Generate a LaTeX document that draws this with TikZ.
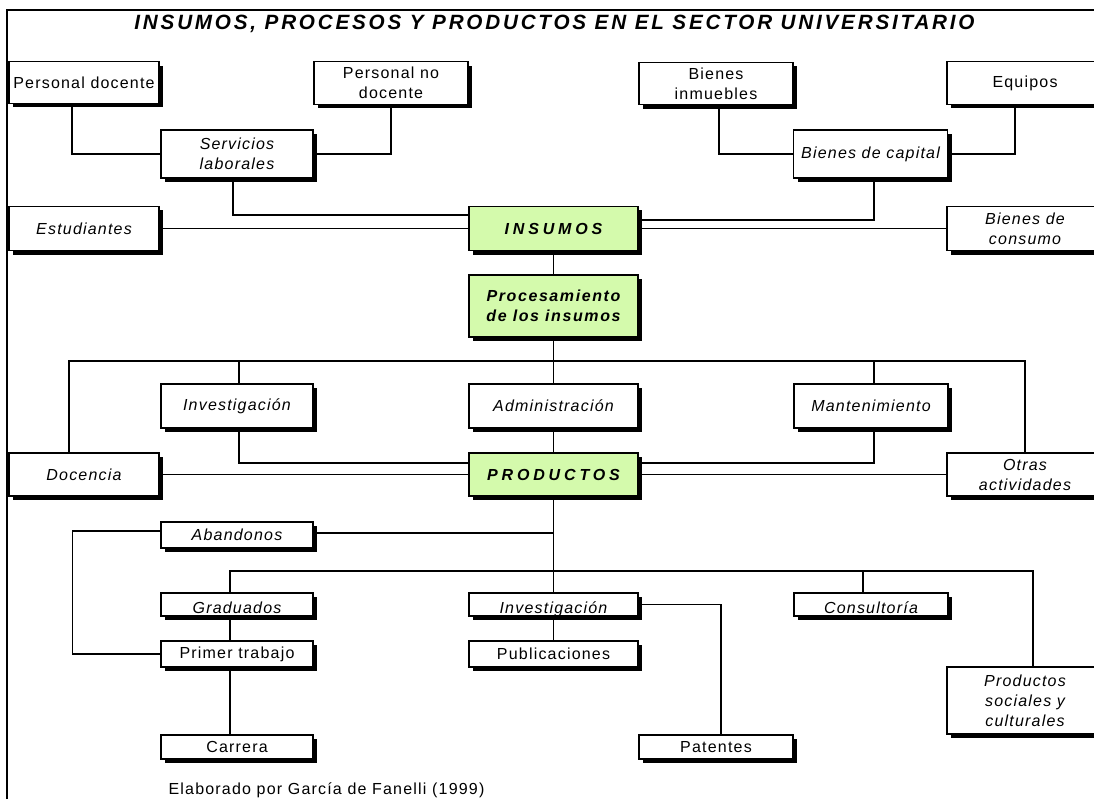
\documentclass[tikz,border=0pt]{standalone}
\usepackage{fontspec}
\setmainfont{Liberation Sans}[LetterSpace=7.5]
\usetikzlibrary{shadows,positioning}
\definecolor{leafgreen}{RGB}{212,250,172}
\tikzstyle{box} = [draw, fill=white, rectangle, line width=0.8pt, inner sep=1pt,
    align=center, font=\fontsize{12}{15}\selectfont\itshape,
    drop shadow={shadow xshift=3pt, shadow yshift=-3pt, fill=black, opacity=1}]
\tikzstyle{upright} = [font=\fontsize{12}{15}\selectfont]
\tikzstyle{low} = [text height=14pt, text depth=0pt]
\tikzstyle{core} = [box, fill=leafgreen, minimum width=126.75pt,
    font=\fontsize{12}{15}\selectfont\bfseries\itshape\addfontfeature{LetterSpace=10}]
\tikzstyle{spread} = [font=\fontsize{12}{15}\selectfont\bfseries\itshape\addfontfeature{LetterSpace=24}]
\tikzstyle{lcol} = [minimum width=112.5pt]
\tikzstyle{mcol} = [minimum width=114pt]
\tikzstyle{gcol} = [minimum width=126.75pt]
\tikzstyle{rcol} = [minimum width=115.5pt]
\tikzstyle{ecol} = [minimum width=117pt]

\begin{document}
\begin{tikzpicture}[x=0.75pt, y=-0.75pt, line width=0.8pt]
	  \useasboundingbox (0,0) rectangle (1094,799);
	  \clip (0,0) rectangle (1094,799);
	  \draw [line width=2.2pt] (7,799) -- (7,9.5);
	  \draw [line width=1pt] (6,10) -- (1094,10);
	  \node [font=\fontsize{15.5}{18}\selectfont\bfseries\itshape\addfontfeature{LetterSpace=13.5}] (title) at (554.5,24)
	    {INSUMOS, PROCESOS Y PRODUCTOS EN EL SECTOR UNIVERSITARIO};
	  \node [box, upright, lcol, minimum height=31pt] (pd) at (84,82.5) {Personal docente};
	  \node [box, upright, rcol, minimum height=32pt] (pnd) at (391,83) {Personal no\\docente};
	  \node [box, upright, rcol, minimum height=32pt] (bi) at (716,83.5) {Bienes\\inmuebles};
	  \node [box, upright, ecol, minimum height=32pt] (eq) at (1025,83) {Equipos};
	  \node [box, mcol, minimum height=36pt] (sl) at (237,154) {Servicios\\laborales};
	  \node [box, rcol, minimum height=36pt] (bc) at (870.5,154) {Bienes de capital};
	  \node [box, lcol, minimum height=33.5pt] (est) at (84,228.5) {Estudiantes};
	  \node [core, spread, minimum height=33.5pt] (ins) at (553.5,228.5) {INSUMOS};
	  \node [box, ecol, minimum height=33.5pt] (bco) at (1025,228.5) {Bienes de\\consumo};
	  \node [core, minimum height=46.5pt] (proc) at (553.5,306) {Procesamiento\\de los insumos};
	  \node [box, mcol, minimum height=33pt] (inv) at (237,406) {Investigación};
	  \node [box, gcol, minimum height=33pt] (adm) at (553.5,406) {Administración};
	  \node [box, rcol, minimum height=33pt] (man) at (871,406) {Mantenimiento};
	  \node [box, lcol, minimum height=32.25pt] (doc) at (84,474.5) {Docencia};
	  \node [core, spread, minimum height=32.25pt] (prod) at (553.5,474.5) {PRODUCTOS};
	  \node [box, ecol, minimum height=32.25pt] (otr) at (1025,474.5) {Otras\\actividades};
	  \node [box, mcol, minimum height=19.5pt] (aba) at (237,535) {Abandonos};
	  \node [box, low, mcol, minimum height=17.25pt] (gra) at (237,604.5) {Graduados};
	  \node [box, low, gcol, minimum height=17.25pt] (inv2) at (553.5,604.5) {Investigación};
	  \node [box, low, rcol, minimum height=17.25pt] (con) at (871,604.5) {Consultoría};
	  \node [box, upright, mcol, minimum height=19.5pt] (pt) at (237,654) {Primer trabajo};
	  \node [box, upright, gcol, minimum height=19.5pt] (pub) at (553.5,654) {Publicaciones};
	  \node [box, upright, mcol, minimum height=18pt] (car) at (237,747) {Carrera};
	  \node [box, upright, rcol, minimum height=18pt] (pat) at (716,747) {Patentes};
	  \node [box, ecol, minimum height=50.25pt] (psc) at (1025,700.5) {Productos\\sociales y\\culturales};
	  \node [anchor=base west, inner sep=0pt, font=\fontsize{12}{15}\selectfont] (note) at (168,794)
	    {Elaborado por García de Fanelli (1999)};
	  \coordinate (bus) at (553.5,361);
	  \coordinate (bus2) at (553.5,571);
	  \draw ([shift={(-12,0)}]pd.south) |- (sl.west);
	  \draw (pnd.south) |- (sl.east);
	  \draw ([shift={(-4,0)}]sl.south) |- ([shift={(0,-13.5)}]ins.west);
	  \draw (est) -- (ins);
	  \draw ([shift={(3,0)}]bi.south) |- (bc.west);
	  \draw ([shift={(-10,0)}]eq.south) |- (bc.east);
	  \draw ([shift={(3.5,0)}]bc.south) |- ([shift={(0,-8.5)}]ins.east);
	  \draw (ins) -- (bco);
	  \draw (ins) -- (proc);
	  \draw (proc) -- (adm);
	  \draw ([shift={(-15,0)}]doc.north) |- (bus) -| (otr.north);
	  \draw ([shift={(2,0)}]inv.north) -- ([shift={(2,0)}]inv.north |- bus);
	  \draw ([shift={(3,0)}]man.north) -- ([shift={(3,0)}]man.north |- bus);
	  \draw (adm) -- (prod);
	  \draw ([shift={(2,0)}]inv.south) |- ([shift={(0,-11.5)}]prod.west);
	  \draw ([shift={(3,0)}]man.south) |- ([shift={(0,-11.5)}]prod.east);
	  \draw (doc) -- (prod);
	  \draw (prod) -- (otr);
	  \draw (prod) -- (inv2);
	  \draw (inv2) -- (pub);
	  \draw ([shift={(0,-2)}]aba.east) -- ([shift={(0,-2)}]aba.east -| prod.south);
	  \draw ([shift={(0,-4)}]aba.west) -- ++(-88,0) |- (pt.west);
	  \draw ([shift={(-7,0)}]gra.north) |- (bus2) -| ([shift={(8,0)}]psc.north);
	  \draw ([shift={(-8,0)}]con.north) -- ([shift={(-8,0)}]con.north |- bus2);
	  \draw ([shift={(-7,0)}]gra.south) -- ([shift={(-7,0)}]pt.north);
	  \draw ([shift={(-7,0)}]pt.south) -- ([shift={(-7,0)}]car.north);
	  \draw (inv2.east) -| ([shift={(5,0)}]pat.north);
	\end{tikzpicture}
\end{document}
